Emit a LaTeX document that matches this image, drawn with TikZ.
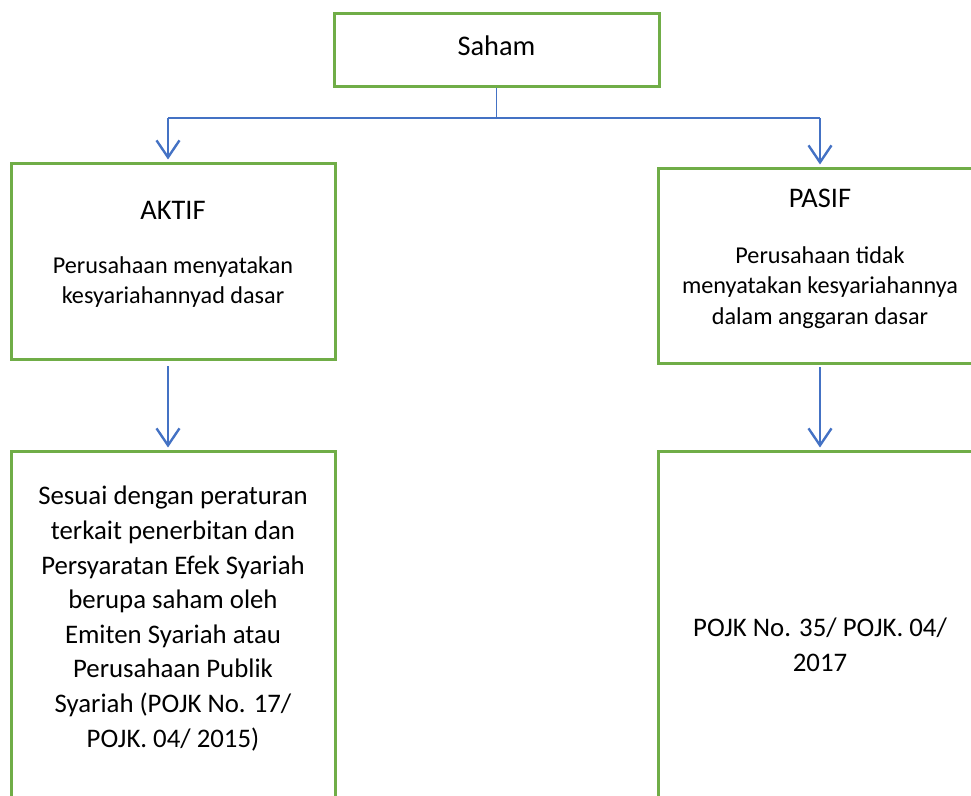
\documentclass[tikz,border=0pt]{standalone}
\usepackage{fontspec}
\setmainfont{Carlito}
\usetikzlibrary{arrows.meta}
\definecolor{boxgreen}{HTML}{70AD47}
\definecolor{lineblue}{HTML}{4472C4}

\begin{document}
\begin{tikzpicture}[x=0.5pt, y=-0.5pt,
	box/.style={draw=boxgreen, line width=1.5pt, minimum width=162pt, inner sep=0pt},
	big/.style={font=\fontsize{14.2}{17.3}\selectfont, align=center, inner sep=0pt},
	body/.style={font=\fontsize{13.4}{17.3}\selectfont, align=center, inner sep=0pt},
	small/.style={font=\fontsize{12.1}{15.25}\selectfont, align=center, inner sep=0pt},
	link/.style={draw=lineblue, line width=0.6pt},
	arr/.style={draw=lineblue, line width=1.2pt,
		-{Straight Barb[length=8.5pt,width=11.5pt,line width=1.2pt]}, shorten >=1.5pt}]
	\useasboundingbox (0,0) rectangle (971,796);
	\clip (0,0) rectangle (971,796);
	% boxes
	\node[box, minimum width=162.5pt, minimum height=36.5pt] (saham) at (496.5,50.5) {};
	\node[box, minimum height=98pt] (aktif) at (173,262) {};
	\node[box, minimum height=97.5pt] (pasif) at (820,266.5) {};
	\node[box, minimum height=189pt] (syariah) at (173,641) {};
	\node[box, minimum height=189pt] (pojk) at (820,641) {};
	% texts
	\node[big] (sahamtxt) at (496.5,46) {Saham};
	\node[big] (aktifhead) at (173,210) {AKTIF};
	\node[small] (aktifdesc) at (173,282) {Perusahaan menyatakan\\kesyariahannyad dasar};
	\node[big] (pasifhead) at (820,198) {PASIF};
	\node[small] (pasifdesc) at (820,287.5) {Perusahaan tidak\\menyatakan kesyariahannya\\dalam anggaran dasar};
	\node[body] (syariahtxt) at (173,618.5) {Sesuai dengan peraturan\\terkait penerbitan dan\\Persyaratan Efek Syariah\\berupa saham oleh\\Emiten Syariah atau\\Perusahaan Publik\\Syariah (POJK No. 17/\\POJK. 04/ 2015)};
	\node[body] (pojktxt) at (820,644.5) {POJK No. 35/ POJK. 04/\\2017};
	% connectors
	\coordinate (split) at (496.5,118);
	\coordinate (aktifin) at (168,118);
	\coordinate (pasifin) at (820,118);
	\path[link] (saham.south) -- (split)
		(aktifin) -- (pasifin);
	\path[arr] (aktifin) -- (aktifin |- aktif.north);
	\path[arr] (pasifin) -- (pasif.north);
	\path[arr, shorten <=2.5pt] (aktifin |- aktif.south) -- (aktifin |- syariah.north);
	\path[arr, shorten <=1pt] (pasif.south) -- (pojk.north);
\end{tikzpicture}
\end{document}
